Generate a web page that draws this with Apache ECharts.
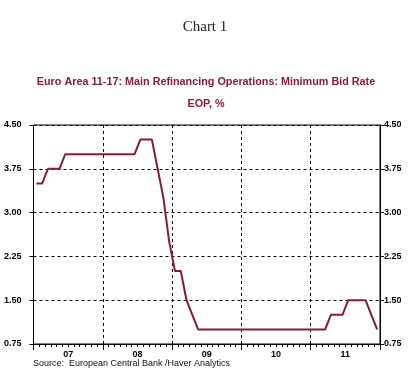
<!DOCTYPE html>
<html>
<head>
<meta charset="utf-8">
<title>Chart 1</title>
<script src="https://cdn.jsdelivr.net/npm/echarts@6/dist/echarts.min.js"></script>
<style>
  html, body { margin: 0; padding: 0; background: #fff; }
  #chart { width: 410px; height: 376px; }
</style>
</head>
<body>
<div id="chart"></div>
<script>
// monthly, end of period, Jan 2007 .. Dec 2011
var years = ['07', '08', '09', '10', '11'];
var rate2007 = [3.50, 3.50, 3.75, 3.75, 3.75, 4.00, 4.00, 4.00, 4.00, 4.00, 4.00, 4.00];
var rate2008 = [4.00, 4.00, 4.00, 4.00, 4.00, 4.00, 4.25, 4.25, 4.25, 3.75, 3.25, 2.50];
var rate2009 = [2.00, 2.00, 1.50, 1.25, 1.00, 1.00, 1.00, 1.00, 1.00, 1.00, 1.00, 1.00];
var rate2010 = [1.00, 1.00, 1.00, 1.00, 1.00, 1.00, 1.00, 1.00, 1.00, 1.00, 1.00, 1.00];
var rate2011 = [1.00, 1.00, 1.00, 1.25, 1.25, 1.25, 1.50, 1.50, 1.50, 1.50, 1.25, 1.00];
var yTicks = [0.75, 1.50, 2.25, 3.00, 3.75, 4.50];

var rates = [].concat(rate2007, rate2008, rate2009, rate2010, rate2011);
var seriesData = [];
for (var i = 0; i < rates.length; i++) {
  // point in the middle of its month
  seriesData.push([i + 0.5, rates[i]]);
}

var lineColor = '#8b1a3a';
var tickFont = { fontFamily: 'Liberation Sans', fontSize: 9, fontWeight: 'bold', color: '#000' };

function yAxisDef(pos, margin, split) {
  return {
    type: 'value',
    position: pos,
    min: yTicks[0],
    max: yTicks[yTicks.length - 1],
    interval: 0.75,
    axisLine: { show: true, lineStyle: { color: '#000', width: 1 } },
    axisTick: { show: true, length: 4, lineStyle: { color: '#000' } },
    axisLabel: Object.assign({ margin: margin, formatter: function (v) { return v.toFixed(2); } }, tickFont),
    splitLine: { show: split, lineStyle: { color: '#000', type: [3, 3], width: 1 } }
  };
}

var myChart = echarts.init(document.getElementById('chart'), null, { renderer: 'canvas' });
var option = {
  animation: false,
  backgroundColor: '#fff',
  grid: {
    left: 33.5, right: 30, top: 125, bottom: 32,
    show: true, borderColor: '#000', borderWidth: 1, backgroundColor: 'transparent'
  },
  graphic: [
    { type: 'text', x: 205, y: 27, style: { text: 'Chart 1', fontFamily: 'Liberation Serif', fontSize: 15, fill: '#222', align: 'center', verticalAlign: 'middle' } },
    { type: 'text', x: 206, y: 82, style: { text: 'Euro Area 11-17: Main Refinancing Operations: Minimum Bid Rate', fontFamily: 'Liberation Sans', fontSize: 10.8, fontWeight: 'bold', fill: lineColor, align: 'center', verticalAlign: 'middle' } },
    { type: 'text', x: 206, y: 104, style: { text: 'EOP, %', fontFamily: 'Liberation Sans', fontSize: 10.8, fontWeight: 'bold', fill: lineColor, align: 'center', verticalAlign: 'middle' } },
    { type: 'text', x: 33, y: 364, style: { text: 'Source:  European Central Bank /Haver Analytics', fontFamily: 'Liberation Sans', fontSize: 9, fill: '#111', align: 'left', verticalAlign: 'middle' } }
  ],
  xAxis: {
    type: 'value',
    min: 0,
    max: 60,
    interval: 12,
    axisLine: { show: true, onZero: false, lineStyle: { color: '#000', width: 1 } },
    axisTick: { show: true, length: 6, lineStyle: { color: '#000' } },
    minorTick: { show: true, splitNumber: 12, length: 3, lineStyle: { color: '#000' } },
    axisLabel: Object.assign({
      margin: 6,
      customValues: [6, 18, 30, 42, 54],
      formatter: function (v) { return years[Math.round((v - 6) / 12)]; }
    }, tickFont),
    splitLine: { show: true, lineStyle: { color: '#000', type: [3, 3], width: 1 } }
  },
  yAxis: [yAxisDef('left', 12, true), yAxisDef('right', 4, false)],
  series: [{
    type: 'line',
    data: seriesData,
    showSymbol: false,
    symbol: 'none',
    lineStyle: { color: lineColor, width: 2 },
    z: 5
  }]
};
myChart.setOption(option);
</script>
</body>
</html>
